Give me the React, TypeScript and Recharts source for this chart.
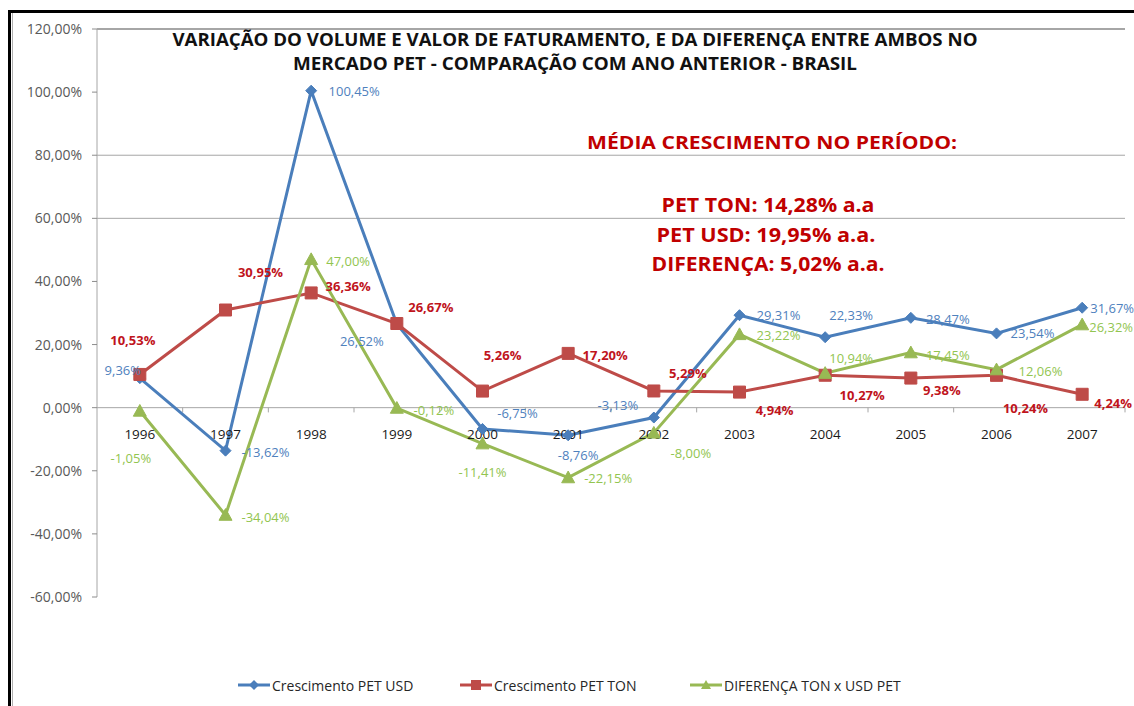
import React from 'react';
import { LineChart, Line, XAxis, YAxis, ReferenceLine, ReferenceDot, LabelList } from 'recharts';

const years = ['1996', '1997', '1998', '1999', '2000', '2001', '2002', '2003', '2004', '2005', '2006', '2007'];
const usdGrowth = [9.36, -13.62, 100.45, 26.52, -6.75, -8.76, -3.13, 29.31, 22.33, 28.47, 23.54, 31.67];
const tonGrowth = [10.53, 30.95, 36.36, 26.67, 5.26, 17.2, 5.29, 4.94, 10.27, 9.38, 10.24, 4.24];
const diffGrowth = [-1.05, -34.04, 47.0, -0.12, -11.41, -22.15, -8.0, 23.22, 10.94, 17.45, 12.06, 26.32];
const yTicks = [-60, -40, -20, 0, 20, 40, 60, 80, 100, 120];
const gridValues = [120, 80, 60];

const seriesNames = ['Crescimento PET USD', 'Crescimento PET TON', 'DIFERENÇA TON x USD PET'];
const titleLines = [
  'VARIAÇÃO DO VOLUME E VALOR DE FATURAMENTO, E DA DIFERENÇA ENTRE AMBOS NO',
  'MERCADO PET - COMPARAÇÃO COM ANO ANTERIOR - BRASIL',
];
const noteLines = [
  'MÉDIA CRESCIMENTO NO PERÍODO:',
  'PET TON: 14,28% a.a',
  'PET USD:  19,95% a.a.',
  'DIFERENÇA: 5,02% a.a.',
];

// label placement (text centre relative to the point), like the hand-moved labels in the original
const usdLabelPos = [[-17, -8], [40, 1], [43, 0], [-35, 17], [35, -16], [10, 20], [-36, -13], [39, 0], [26, -22], [37, 1], [36, 0], [30, 0]];
const tonLabelPos = [[-7, -34], [35, -38], [37, -7], [34, -17], [20, -36], [37, 2], [34, -18], [35, 18], [37, 20], [31, 12], [29, 33], [31, 9]];
const diffLabelPos = [[-9, 47], [40, 2], [37, 2], [37, 2], [0, 28], [40, 0], [37, 20], [39, 1], [26, -15], [37, 2], [44, 1], [29, 2]];

const BLUE = '#4a7ebb';
const RED = '#be4b48';
const GREEN = '#98b954';
const FONT = '"Open Sans", "DejaVu Sans", sans-serif';

const rows = years.map((year, i) => ({
  idx: i,
  year,
  usd: usdGrowth[i],
  ton: tonGrowth[i],
  diff: diffGrowth[i],
}));

const pct = (v: number) => v.toFixed(2).replace('.', ',') + '%';

const diamond = (cx: number, cy: number, s: number) => `M${cx},${cy - s} L${cx + s},${cy} L${cx},${cy + s} L${cx - s},${cy} Z`;
const square = (cx: number, cy: number, s: number) => `M${cx - s},${cy - s} H${cx + s} V${cy + s} H${cx - s} Z`;
const triangle = (cx: number, cy: number, s: number) => `M${cx},${cy - s} L${cx + s},${cy + s * 0.8} L${cx - s},${cy + s * 0.8} Z`;

const makeDot = (shape: (cx: number, cy: number, s: number) => string, size: number, color: string) => (p: any) => {
  if (p.cx == null || p.cy == null) return <g key={`d-${p.index}`} />;
  return <path key={`d-${p.index}`} d={shape(p.cx, p.cy, size)} fill={color} stroke={color} strokeWidth={1} />;
};

const makeLabel = (pos: number[][], color: string, bold: boolean) => (p: any) => {
  const x = p.x ?? p.viewBox?.x;
  const y = p.y ?? p.viewBox?.y;
  const off = pos[p.index] || [0, -15];
  return (
    <text
      key={`l-${p.index}`}
      x={x + off[0]}
      y={y + off[1]}
      textAnchor="middle"
      dominantBaseline="central"
      fill={color}
      fontSize={13}
      fontWeight={bold ? 700 : 400}
      fontFamily={FONT}
    >
      {pct(Number(p.value))}
    </text>
  );
};

const LegendIcon = ({ color, shape }: { color: string; shape: (cx: number, cy: number, s: number) => string }) => (
  <svg width={32} height={14} style={{ verticalAlign: 'middle' }}>
    <line x1={0} y1={7} x2={32} y2={7} stroke={color} strokeWidth={3} />
    <path d={shape(16, 7, 5)} fill={color} />
  </svg>
);

export default function App() {
  const legendItems = [
    { name: seriesNames[0], color: BLUE, shape: diamond, left: 238 },
    { name: seriesNames[1], color: RED, shape: square, left: 460 },
    { name: seriesNames[2], color: GREEN, shape: triangle, left: 690 },
  ];

  return (
    <div style={{ position: 'absolute', left: 0, top: 0, width: 1134, height: 706, background: '#fff', overflow: 'hidden' }}>
      <LineChart width={1134} height={706} data={rows} margin={{ top: 29, right: 9, bottom: 109, left: 10 }}>
        <XAxis type="number" dataKey="idx" domain={[-0.5, 11.5]} hide />
        <YAxis
          type="number"
          domain={[-60, 120]}
          ticks={yTicks}
          interval={0}
          width={87}
          tickFormatter={pct}
          tickSize={5}
          tickMargin={10}
          tickLine={{ stroke: '#8c8c8c' }}
          axisLine={{ stroke: '#a6a6a6' }}
          tick={{ fill: '#595959', fontSize: 14, fontFamily: FONT }}
        />
        {gridValues.map((v) => (
          <ReferenceLine key={`g-${v}`} y={v} stroke="#a6a6a6" strokeWidth={v === 120 ? 2 : 1} />
        ))}
        <ReferenceLine y={0} stroke="#a6a6a6" />
        {years.map((_, i) => (
          <ReferenceLine
            key={`t-${i}`}
            segment={[{ x: i + 0.5, y: 0 }, { x: i + 0.5, y: -1.5 }]}
            stroke="#a6a6a6"
          />
        ))}
        {years.map((year, i) => (
          <ReferenceDot
            key={`y-${year}`}
            x={i}
            y={0}
            r={0}
            shape={(p: any) => (
              <text x={p.cx} y={p.cy + 26} textAnchor="middle" dominantBaseline="central" fill="#1a1a1a" fontSize={13.5} fontFamily={FONT}>
                {year}
              </text>
            )}
          />
        ))}
        <Line dataKey="usd" name={seriesNames[0]} stroke={BLUE} strokeWidth={3} dot={makeDot(diamond, 5.5, BLUE)} isAnimationActive={false}>
          <LabelList dataKey="usd" content={makeLabel(usdLabelPos, '#4f81bd', false)} />
        </Line>
        <Line dataKey="ton" name={seriesNames[1]} stroke={RED} strokeWidth={3} dot={makeDot(square, 6, RED)} isAnimationActive={false}>
          <LabelList dataKey="ton" content={makeLabel(tonLabelPos, '#c0141c', true)} />
        </Line>
        <Line dataKey="diff" name={seriesNames[2]} stroke={GREEN} strokeWidth={3} dot={makeDot(triangle, 6.5, GREEN)} isAnimationActive={false}>
          <LabelList dataKey="diff" content={makeLabel(diffLabelPos, '#92c550', false)} />
        </Line>
      </LineChart>

      <svg width={1134} height={706} style={{ position: 'absolute', left: 0, top: 0, pointerEvents: 'none' }}>
        <text x={575} y={46} textAnchor="middle" fontSize={18} fontWeight={700} fill="#111" fontFamily={FONT} textLength={805} lengthAdjust="spacingAndGlyphs">
          {titleLines[0]}
        </text>
        <text x={575} y={70} textAnchor="middle" fontSize={18} fontWeight={700} fill="#111" fontFamily={FONT} textLength={564} lengthAdjust="spacingAndGlyphs">
          {titleLines[1]}
        </text>
        <text x={772} y={149} textAnchor="middle" fontSize={17} fontWeight={700} fill="#c00000" fontFamily={FONT} textLength={370} lengthAdjust="spacingAndGlyphs">
          {noteLines[0]}
        </text>
        <text x={768} y={212} textAnchor="middle" fontSize={20} fontWeight={700} fill="#c00000" fontFamily={FONT} textLength={213} lengthAdjust="spacingAndGlyphs">
          {noteLines[1]}
        </text>
        <text x={766} y={242} textAnchor="middle" fontSize={20} fontWeight={700} fill="#c00000" fontFamily={FONT} textLength={219} lengthAdjust="spacingAndGlyphs">
          {noteLines[2]}
        </text>
        <text x={768} y={271} textAnchor="middle" fontSize={20} fontWeight={700} fill="#c00000" fontFamily={FONT} textLength={233} lengthAdjust="spacingAndGlyphs">
          {noteLines[3]}
        </text>
        {/* frame */}
        <rect x={8} y={10} width={1126} height={3} fill="#000" />
        <rect x={8} y={10} width={3} height={696} fill="#000" />
        <rect x={12} y={13} width={1} height={693} fill="#b0b0b0" />
      </svg>

      {legendItems.map((item) => (
        <div
          key={item.name}
          style={{
            position: 'absolute',
            left: item.left,
            top: 675,
            height: 20,
            display: 'flex',
            alignItems: 'center',
            gap: 2,
            fontFamily: FONT,
            fontSize: 14,
            color: '#262626',
            whiteSpace: 'nowrap',
          }}
        >
          <LegendIcon color={item.color} shape={item.shape} />
          <span>{item.name}</span>
        </div>
      ))}
    </div>
  );
}
